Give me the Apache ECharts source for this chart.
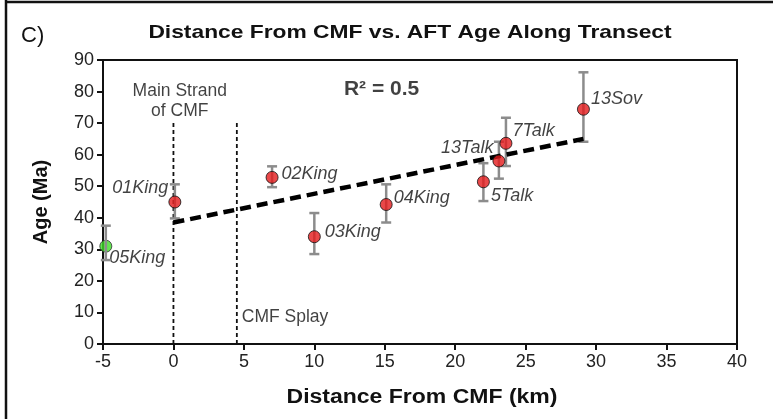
<!DOCTYPE html>
<html><head><meta charset="utf-8">
<script src="https://cdn.jsdelivr.net/npm/echarts@6/dist/echarts.min.js"></script>
<style>html,body{margin:0;padding:0;background:#fff}#c{width:773px;height:419px}</style>
</head><body><div id="c"></div>
<script>
// Data
const sampleNames = ['01King','02King','03King','04King','5Talk','13Talk','7Talk','13Sov'];
const distances   = [0.1, 7.0, 10.0, 15.1, 22.0, 23.1, 23.6, 29.1];
const ages        = [45.0, 52.8, 34.0, 44.2, 51.4, 58.0, 63.6, 74.4];
const errLow      = [39.8, 49.7, 28.5, 38.5, 45.3, 52.4, 56.4, 64.1];
const errHigh     = [50.6, 56.3, 41.5, 50.6, 57.3, 64.1, 71.7, 86.1];
const greenName = '05King', greenDist = -4.8, greenAge = 31.0, greenLow = 26.6, greenHigh = 37.5;
const trendX = [0, 29.1], trendY = [38.5, 65.0];
const mainStrandX = 0, splayX = 4.5, faultTop = 70;
const xTicks = [-5, 40, 5];   // min, max, interval
const yTicks = [0, 90, 10];
const titleText = 'Distance From CMF vs. AFT Age Along Transect';
const xName = 'Distance From CMF (km)', yName = 'Age (Ma)';

const FONT = 'Liberation Sans, Arial, sans-serif';
const labelPos = {
  '01King': {position:'left', distance:0, offset:[0,-14]},
  '02King': {position:'right', distance:3, offset:[0,-3]},
  '03King': {position:'right', distance:4, offset:[0,-5]},
  '04King': {position:'right', distance:1, offset:[0,-7]},
  '5Talk':  {position:'right', distance:1, offset:[0,14]},
  '13Talk': {position:'left', distance:-1, offset:[0,-13]},
  '7Talk':  {position:'right', distance:0, offset:[0,-12]},
  '13Sov':  {position:'right', distance:1, offset:[0,-10]},
  '05King': {position:'right', distance:-3, offset:[0,12]}
};
function ptData(n, x, y) {
  const lp = labelPos[n];
  return {name:n, value:[x,y], label:{show:true, formatter:n, position:lp.position, distance:lp.distance, offset:lp.offset,
    fontFamily:FONT, fontStyle:'italic', fontSize:18, color:'#111'}};
}
const redData = sampleNames.map((n,i)=>ptData(n, distances[i], ages[i]));
const errData = distances.map((d,i)=>[d, errLow[i], errHigh[i]]).concat([[greenDist, greenLow, greenHigh]]);

function renderErr(params, api) {
  const x = api.value(0), lo = api.value(1), hi = api.value(2);
  const p1 = api.coord([x, lo]), p2 = api.coord([x, hi]);
  const w = 5;
  const st = {stroke:'#8c8c8c', lineWidth:2.5};
  return {type:'group', children:[
    {type:'line', shape:{x1:p1[0],y1:p1[1],x2:p2[0],y2:p2[1]}, style:st},
    {type:'line', shape:{x1:p1[0]-w,y1:p1[1],x2:p1[0]+w,y2:p1[1]}, style:st},
    {type:'line', shape:{x1:p2[0]-w,y1:p2[1],x2:p2[0]+w,y2:p2[1]}, style:st}
  ]};
}

const annot = [
  {value:[0.45, 76.9], label:{formatter:'Main Strand\nof CMF', position:'inside', fontSize:17.5, lineHeight:20, align:'center'}},
  {value:[4.85, 8.65], label:{formatter:'CMF Splay', position:'right', distance:0, fontSize:17.5}},
  {value:[12.1, 80.8], label:{formatter:'R\u00B2 = 0.5', position:'right', distance:0, fontSize:21, fontWeight:'bold'}}
];

const chart = echarts.init(document.getElementById('c'), null, {renderer:'canvas'});
chart.setOption({
  animation:false,
  backgroundColor:'#fff',
  graphic:[
    {type:'text', x:410, y:33, scaleX:1.2, style:{text:titleText, font:'bold 19px Liberation Sans, Arial', fill:'#111', align:'center', verticalAlign:'middle'}},
    {type:'text', x:422, y:397, scaleX:1.15, style:{text:xName, font:'bold 20px Liberation Sans, Arial', fill:'#111', align:'center', verticalAlign:'middle'}},
    {type:'text', x:21, y:36, style:{text:'C)', font:'22px Liberation Sans, Arial', fill:'#111', verticalAlign:'middle'}},
    {type:'line', shape:{x1:6,y1:0,x2:6,y2:419}, style:{stroke:'#111', lineWidth:2.5}},
    {type:'line', shape:{x1:5,y1:2,x2:773,y2:2}, style:{stroke:'#111', lineWidth:2.5}}
  ],
  grid:{left:103, right:36, top:60, bottom:75, show:true, borderColor:'#111', borderWidth:2},
  xAxis:{type:'value', min:xTicks[0], max:xTicks[1], interval:xTicks[2],
    axisLine:{onZero:false, lineStyle:{color:'#111', width:2}}, axisTick:{length:6, lineStyle:{color:'#111', width:2}},
    axisLabel:{fontFamily:FONT, fontSize:18, color:'#222', margin:9}, splitLine:{show:false}},
  yAxis:{type:'value', min:yTicks[0], max:yTicks[1], interval:yTicks[2],
    name:yName, nameLocation:'middle', nameGap:52,
    nameTextStyle:{fontFamily:FONT, fontWeight:'bold', fontSize:20, color:'#111'},
    axisLine:{show:true, onZero:false, lineStyle:{color:'#111', width:2}}, axisTick:{show:true, length:6, lineStyle:{color:'#111', width:2}},
    axisLabel:{fontFamily:FONT, fontSize:18, color:'#222', margin:9}, splitLine:{show:false}},
  series:[
    {type:'line', data:[[mainStrandX,0],[mainStrandX,faultTop]], symbol:'none', lineStyle:{color:'#111', width:1.8, type:[4,3]}, z:1},
    {type:'line', data:[[splayX,0],[splayX,faultTop]], symbol:'none', lineStyle:{color:'#111', width:1.8, type:[4,3]}, z:1},
    {type:'custom', renderItem:renderErr, data:errData, z:2, clip:false},
    {type:'line', data:trendX.map((x,i)=>[x,trendY[i]]), symbol:'none', lineStyle:{color:'#000', width:4.5, type:[11,6]}, z:3},
    {type:'scatter', data:redData, symbolSize:12, itemStyle:{color:'#e41a1c', borderColor:'#111', borderWidth:1}, z:4},
    {type:'scatter', data:[ptData(greenName, greenDist, greenAge)], symbolSize:12, itemStyle:{color:'#3ddc27', borderColor:'#333', borderWidth:1}, z:0},
    {type:'scatter', data:annot, symbolSize:0, silent:true, z:5,
      label:{show:true, fontFamily:FONT, color:'#111'}}
  ]
});
</script></body></html>
